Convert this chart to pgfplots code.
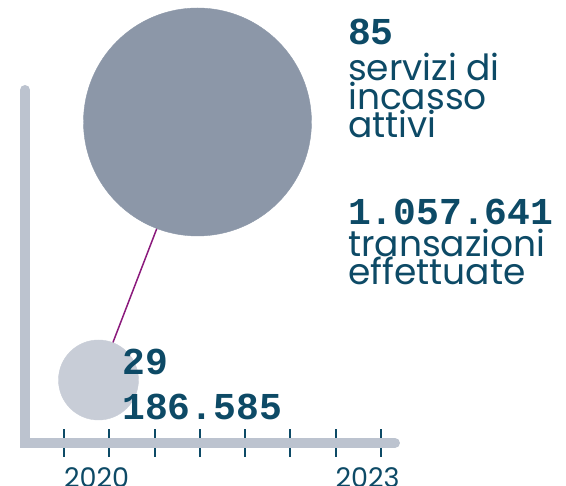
\documentclass[border=0pt]{standalone}
\usepackage{pgfplots}
\pgfplotsset{compat=1.18}
\usepackage{fontspec}
\setmainfont{Poppins}
\newfontfamily\numfont{Liberation Mono}[BoldFont=* Bold]
\definecolor{txt}{HTML}{0D4A66}
\definecolor{axl}{HTML}{BCC3CF}
\definecolor{big}{HTML}{8C97A8}
\definecolor{small}{HTML}{C8CDD7}
\definecolor{conn}{HTML}{8B1A7C}
\begin{document}
\begin{tikzpicture}
\begin{axis}[
  name=ax,
  scale only axis,
  width=566pt, height=486pt,
  xmin=2019.2928, xmax=2025.547,
  ymin=-43, ymax=443,
  axis x line=middle, axis y line=none,
  x axis line style={draw=none, -},
  xtick={2020,2020.5,2021,2021.5,2022,2022.5,2023,2023.5},
  xticklabels={2020,,,,,,2023,},
  major tick length=28pt,
  tick align=center,
  x tick style={line width=2pt, color=txt},
  xticklabel style={anchor=north west, inner sep=0pt, yshift=-10pt, font=\fontsize{27}{27}\selectfont, text=txt},
  ytick=\empty,
  clip=false,
  clip mode=individual,
]
\draw[axl, line width=10pt, line cap=round, line join=miter]
  (axis cs:2019.569,353) -- (axis cs:2019.569,0) -- (axis cs:2023.657,0);
\addplot[conn, line width=1.5pt] coordinates {(2020.381,63) (2021.475,320)};
\addplot[only marks, color=small, mark=*, mark size=40pt, mark options={solid, fill=small, draw=small}] coordinates {(2020.381,63)};
\addplot[only marks, color=big, mark=*, mark size=114pt, mark options={solid, fill=big, draw=big}] coordinates {(2021.475,321)};
\begin{scope}[every node/.style={anchor=base west, inner sep=0pt, text=txt}]
\node[font=\numfont\bfseries\fontsize{38}{38}\selectfont] at (axis cs:2023.138,398) {85};
\node[align=left, font=\fontsize{36}{27.5}\selectfont] at (axis cs:2023.138,305) {servizi di\\incasso\\attivi};
\node[font=\numfont\bfseries\fontsize{38}{38}\selectfont] at (axis cs:2023.138,218) {1.057.641};
\node[align=left, font=\fontsize{36}{27}\selectfont] at (axis cs:2023.138,158) {transazioni\\effettuate};
\node[font=\numfont\bfseries\fontsize{38}{38}\selectfont] at (axis cs:2020.641,68) {29};
\node[font=\numfont\bfseries\fontsize{38}{38}\selectfont] at (axis cs:2020.641,23) {186.585};
\end{scope}
\end{axis}
\pgfresetboundingbox
\path (ax.south west) rectangle (ax.north east);
\end{tikzpicture}
\end{document}
